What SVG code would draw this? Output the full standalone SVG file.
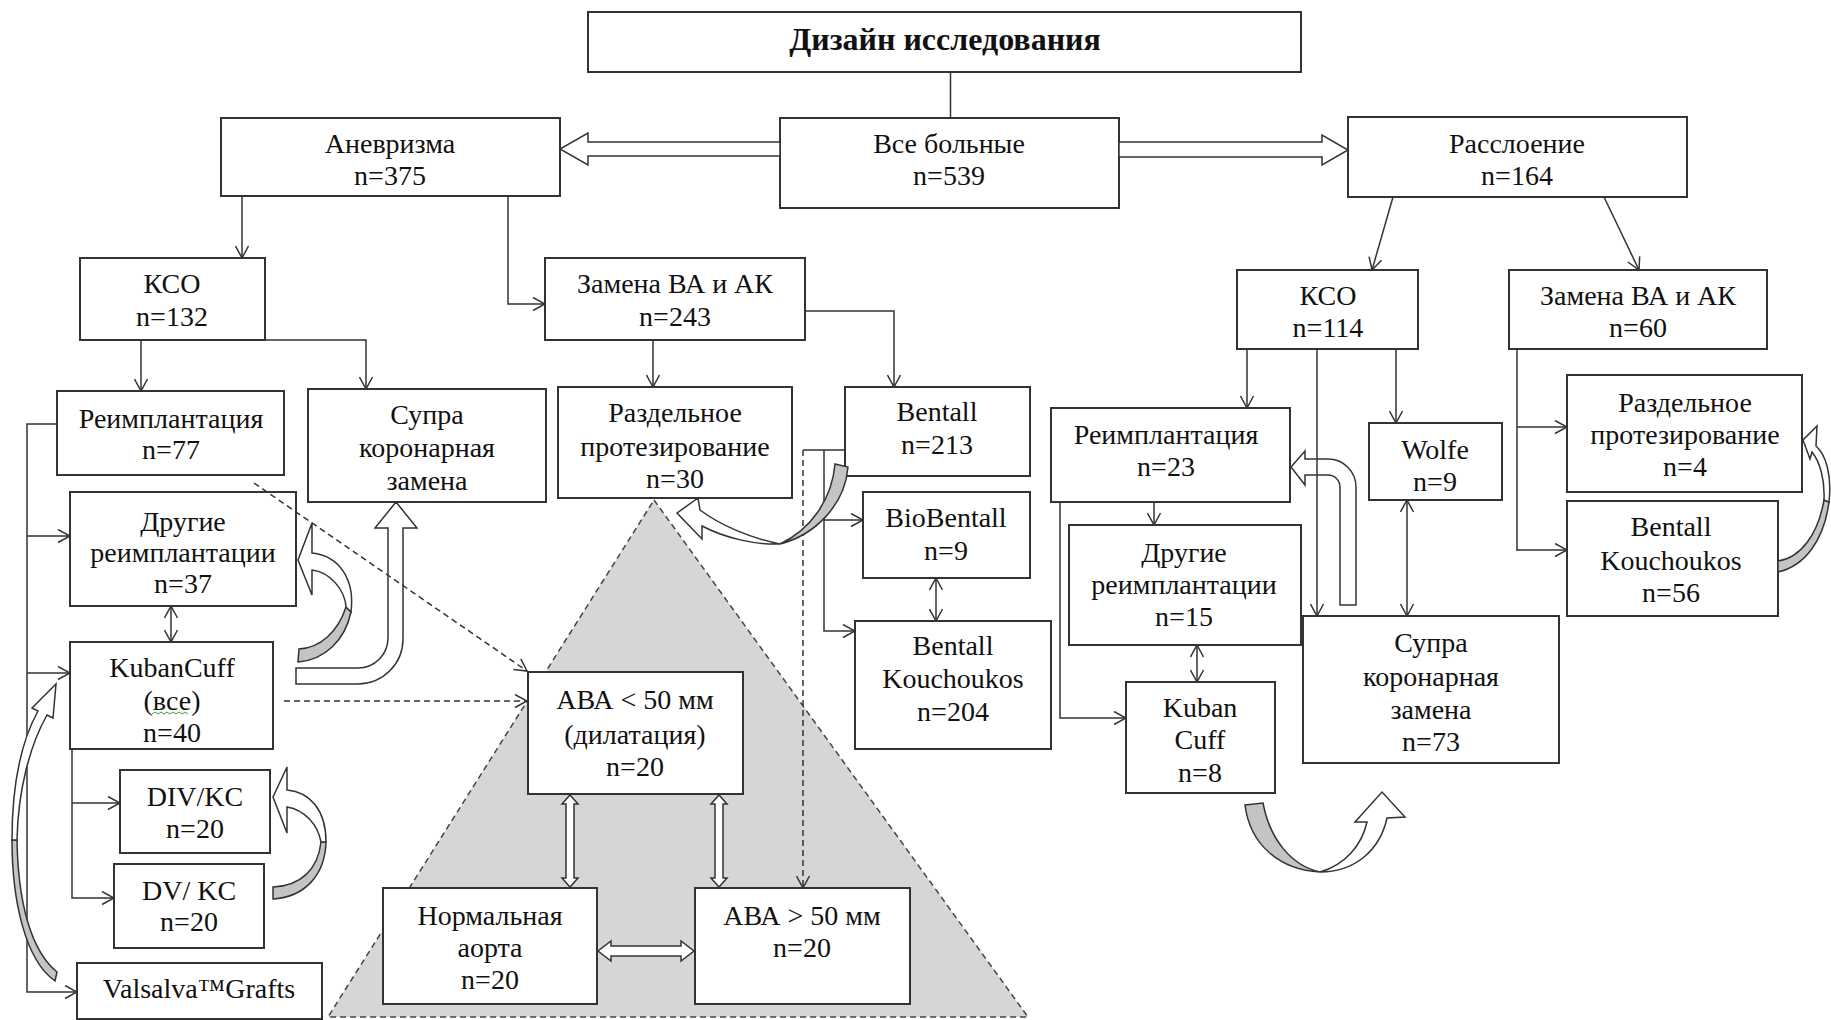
<svg xmlns="http://www.w3.org/2000/svg" width="1831" height="1020" viewBox="0 0 1831 1020">
<defs>
<style>
.box{fill:#fff;stroke:#333;stroke-width:2}
.t{font-family:'Liberation Serif','Times New Roman',serif;font-size:28px;fill:#111;text-anchor:middle}
.ttl{font-weight:bold;font-size:32px}
.ln{fill:none;stroke:#333;stroke-width:1.5}
.arr{marker-end:url(#ah)}
.dbl{marker-start:url(#ah);marker-end:url(#ah)}
.dash{stroke-dasharray:6 4}
.blk{fill:#fff;stroke:#333;stroke-width:1.5}
.tail{fill:#c4c4c4;stroke:#333;stroke-width:1.5}
</style>
<marker id="ah" viewBox="0 0 14 15" refX="13" refY="7.5" markerWidth="14" markerHeight="15" markerUnits="userSpaceOnUse" orient="auto-start-reverse"><path d="M1,1 L13,7.5 L1,14" fill="none" stroke="#333" stroke-width="1.5"/></marker>
</defs>
<rect width="1831" height="1020" fill="#fff"/>

<g id="triangle"><polygon points="654,500 1028,1017 328,1017" fill="#d6d6d6" stroke="#444" stroke-width="1.5" stroke-dasharray="6 4"/></g>

<g id="title"><rect class="box" x="588" y="12" width="713" height="60"/><text class="t ttl" x="945" y="50">Дизайн исследования</text></g>
<g id="all"><rect class="box" x="780" y="118" width="339" height="90"/><text class="t" x="949" y="153">Все больные</text><text class="t" x="949" y="185">n=539</text></g>
<g id="anevr"><rect class="box" x="221" y="118" width="339" height="78"/><text class="t" x="390" y="153">Аневризма</text><text class="t" x="390" y="185">n=375</text></g>
<g id="rassl"><rect class="box" x="1348" y="117" width="339" height="80"/><text class="t" x="1517" y="153">Расслоение</text><text class="t" x="1517" y="185">n=164</text></g>
<g id="kso-l"><rect class="box" x="80" y="258" width="185" height="82"/><text class="t" x="172" y="293">КСО</text><text class="t" x="172" y="326">n=132</text></g>
<g id="zam-l"><rect class="box" x="545" y="258" width="260" height="82"/><text class="t" x="675" y="293">Замена ВА и АК</text><text class="t" x="675" y="326">n=243</text></g>
<g id="kso-r"><rect class="box" x="1237" y="270" width="181" height="79"/><text class="t" x="1328" y="305">КСО</text><text class="t" x="1328" y="337">n=114</text></g>
<g id="zam-r"><rect class="box" x="1509" y="270" width="258" height="79"/><text class="t" x="1638" y="305">Замена ВА и АК</text><text class="t" x="1638" y="337">n=60</text></g>

<g id="reimp-l"><rect class="box" x="57" y="391" width="227" height="84"/><text class="t" x="171" y="428">Реимплантация</text><text class="t" x="171" y="459">n=77</text></g>
<g id="supra-l"><rect class="box" x="308" y="389" width="238" height="113"/><text class="t" x="427" y="424">Супра</text><text class="t" x="427" y="457">коронарная</text><text class="t" x="427" y="490">замена</text></g>
<g id="razd-l"><rect class="box" x="558" y="387" width="234" height="111"/><text class="t" x="675" y="422">Раздельное</text><text class="t" x="675" y="456">протезирование</text><text class="t" x="675" y="488">n=30</text></g>
<g id="bentall"><rect class="box" x="845" y="387" width="185" height="89"/><text class="t" x="937" y="421">Bentall</text><text class="t" x="937" y="454">n=213</text></g>
<g id="biobentall"><rect class="box" x="863" y="492" width="167" height="86"/><text class="t" x="946" y="527">BioBentall</text><text class="t" x="946" y="560">n=9</text></g>
<g id="bk-mid"><rect class="box" x="855" y="621" width="196" height="128"/><text class="t" x="953" y="655">Bentall</text><text class="t" x="953" y="688">Kouchoukos</text><text class="t" x="953" y="721">n=204</text></g>
<g id="drug-l"><rect class="box" x="70" y="492" width="226" height="114"/><text class="t" x="183" y="531">Другие</text><text class="t" x="183" y="562">реимплантации</text><text class="t" x="183" y="593">n=37</text></g>
<g id="kuban-l"><rect class="box" x="70" y="642" width="203" height="107"/><text class="t" x="172" y="677">KubanCuff</text><text class="t" x="172" y="710">(все)</text><path d="M152,714 l3,-2 l3,2 l3,-2 l3,2 l3,-2 l3,2 l3,-2 l3,2 l3,-2 l3,2 l3,-2 l3,2" fill="none" stroke="#3a9a3a" stroke-width="1"/><text class="t" x="172" y="742">n=40</text></g>
<g id="div"><rect class="box" x="120" y="770" width="150" height="83"/><text class="t" x="195" y="806">DIV/KC</text><text class="t" x="195" y="838">n=20</text></g>
<g id="dv"><rect class="box" x="114" y="864" width="150" height="84"/><text class="t" x="189" y="900">DV/ KC</text><text class="t" x="189" y="931">n=20</text></g>
<g id="valsalva"><rect class="box" x="77" y="963" width="245" height="56"/><text class="t" x="199" y="998">Valsalva™Grafts</text></g>
<g id="aba-lt"><rect class="box" x="528" y="672" width="215" height="122"/><text class="t" x="635" y="709">АВА &lt; 50 мм</text><text class="t" x="635" y="744">(дилатация)</text><text class="t" x="635" y="776">n=20</text></g>
<g id="norm"><rect class="box" x="383" y="888" width="214" height="116"/><text class="t" x="490" y="925">Нормальная</text><text class="t" x="490" y="957">аорта</text><text class="t" x="490" y="989">n=20</text></g>
<g id="aba-gt"><rect class="box" x="695" y="888" width="215" height="116"/><text class="t" x="802" y="925">АВА &gt; 50 мм</text><text class="t" x="802" y="957">n=20</text></g>

<g id="reimp-r"><rect class="box" x="1051" y="408" width="239" height="94"/><text class="t" x="1166" y="444">Реимплантация</text><text class="t" x="1166" y="476">n=23</text></g>
<g id="drug-r"><rect class="box" x="1069" y="525" width="232" height="120"/><text class="t" x="1184" y="562">Другие</text><text class="t" x="1184" y="594">реимплантации</text><text class="t" x="1184" y="626">n=15</text></g>
<g id="kuban-r"><rect class="box" x="1126" y="682" width="149" height="111"/><text class="t" x="1200" y="717">Kuban</text><text class="t" x="1200" y="749">Cuff</text><text class="t" x="1200" y="782">n=8</text></g>
<g id="supra-r"><rect class="box" x="1303" y="616" width="256" height="147"/><text class="t" x="1431" y="652">Супра</text><text class="t" x="1431" y="686">коронарная</text><text class="t" x="1431" y="719">замена</text><text class="t" x="1431" y="751">n=73</text></g>
<g id="wolfe"><rect class="box" x="1369" y="423" width="133" height="77"/><text class="t" x="1435" y="459">Wolfe</text><text class="t" x="1435" y="491">n=9</text></g>
<g id="razd-r"><rect class="box" x="1567" y="375" width="235" height="117"/><text class="t" x="1685" y="412">Раздельное</text><text class="t" x="1685" y="444">протезирование</text><text class="t" x="1685" y="476">n=4</text></g>
<g id="bk-r"><rect class="box" x="1567" y="501" width="211" height="115"/><text class="t" x="1671" y="536">Bentall</text><text class="t" x="1671" y="570">Kouchoukos</text><text class="t" x="1671" y="602">n=56</text></g>

<g id="connectors">
<path class="blk" d="M780,142 L588,142 L588,133 L560,149 L588,165 L588,156 L780,156 Z"/>
<path class="blk" d="M1119,142 L1322,142 L1322,135 L1348,150 L1322,165 L1322,157 L1119,157 Z"/>
<path class="blk" d="M566,804 L562,804 L570,795 L578,804 L574,804 L574,878 L578,878 L570,887 L562,878 L566,878 Z"/>
<path class="blk" d="M715,804 L711,804 L719,795 L727,804 L723,804 L723,878 L727,878 L719,887 L711,878 L715,878 Z"/>
<path class="blk" d="M611,946 L611,941 L598,951 L611,961 L611,956 L681,956 L681,961 L694,951 L681,941 L681,946 Z"/>
<path class="blk" d="M296,668 L358,668 A30,30 0 0 0 388,638 L388,528 L375,528 L396,502 L417,528 L403,528 L403,639 A45,45 0 0 1 358,684 L296,684 Z"/>
<path class="blk" d="M1340,605 L1340,487 A12,12 0 0 0 1328,475 L1305,475 L1305,485 L1291,467 L1305,451 L1305,459 L1328,459 A28,28 0 0 1 1356,487 L1356,605 Z"/>

<path class="ln" d="M950.5,72 V118"/>
<path class="ln arr" d="M242,196 V258"/>
<path class="ln arr" d="M508,196 V304 H545"/>
<path class="ln arr" d="M141,340 V391"/>
<path class="ln arr" d="M265,340 H366 V389"/>
<path class="ln arr" d="M653,340 V387"/>
<path class="ln arr" d="M805,311 H894 V387"/>
<path class="ln arr" d="M1393,197 L1372,270"/>
<path class="ln arr" d="M1604,197 L1639,270"/>
<path class="ln arr" d="M1247,349 V408"/>
<path class="ln arr" d="M1317,349 V616"/>
<path class="ln arr" d="M1396,349 V423"/>
<path class="ln" d="M1517,349 V551"/>
<path class="ln arr" d="M1517,427 H1567"/>
<path class="ln arr" d="M1517,550 H1567"/>
<path class="ln arr" d="M1154,502 V525"/>
<path class="ln arr" d="M1060,502 V718 H1126"/>
<path class="ln dbl" d="M1197,645 V682"/>
<path class="ln dbl" d="M1407,500 V616"/>
<path class="ln arr" d="M57,424 H27 V992 H77"/>
<path class="ln arr" d="M27,536 H70"/>
<path class="ln arr" d="M27,673 H70"/>
<path class="ln arr" d="M72,749 V898 H114"/>
<path class="ln arr" d="M72,803 H120"/>
<path class="ln dbl" d="M171,606 V642"/>
<path class="ln" d="M803,450 H845"/>
<path class="ln arr" d="M824,450 V631 H855"/>
<path class="ln arr" d="M824,520 H863"/>
<path class="ln dbl" d="M936,578 V621"/>
<path class="ln dash arr" d="M803,450 V888"/>
<path class="ln dash arr" d="M254,483 L527,671"/>
<path class="ln dash arr" d="M284,701 H527"/>

<path class="tail" d="M298,662 C325,660 345,640 351,612 L346,607 C338,632 320,648 299,649 Z"/>
<path class="blk" d="M351,612 C355,580 340,556 312,553 L312,523 L298,560 L312,595 L312,570 C330,572 345,590 346,607 Z"/>
<path class="tail" d="M273,899 C305,897 325,875 326,842 L321,842 C318,870 300,886 273,887 Z"/>
<path class="blk" d="M326,842 C326,810 310,792 287,790 L287,767 L273,797 L287,833 L287,807 C305,810 318,825 321,842 Z"/>
<path class="tail" d="M55,981 C25,960 12,900 12,840 L17,840 C18,900 30,950 57,972 Z"/>
<path class="blk" d="M12,840 C12,780 22,740 38,711 L32,708 L56,684 L53,718 L47,715 C30,745 18,790 17,840 Z"/>
<path class="tail" d="M835,464 L848,467 C845,505 815,535 780,544 C810,530 832,500 835,464 Z"/>
<path class="blk" d="M780,544 C755,545 725,538 702,526 L702,539 L677,513 L698,498 L700,510 C720,525 750,538 780,544 Z"/>
<path class="tail" d="M1245,805 L1263,803 C1270,840 1292,866 1320,872 C1280,870 1250,845 1245,805 Z"/>
<path class="blk" d="M1320,872 C1345,865 1362,845 1367,822 L1355,822 L1382,792 L1405,817 L1387,818 C1380,850 1355,872 1320,872 Z"/>
<path class="tail" d="M1778,572 C1805,566 1824,540 1829,502 L1824,500 C1818,535 1800,558 1778,561 Z"/>
<path class="blk" d="M1829,502 C1832,475 1826,455 1816,446 L1817,426 L1803,440 L1810,459 L1812,452 C1820,462 1825,480 1824,500 Z"/>
</g>
</svg>
